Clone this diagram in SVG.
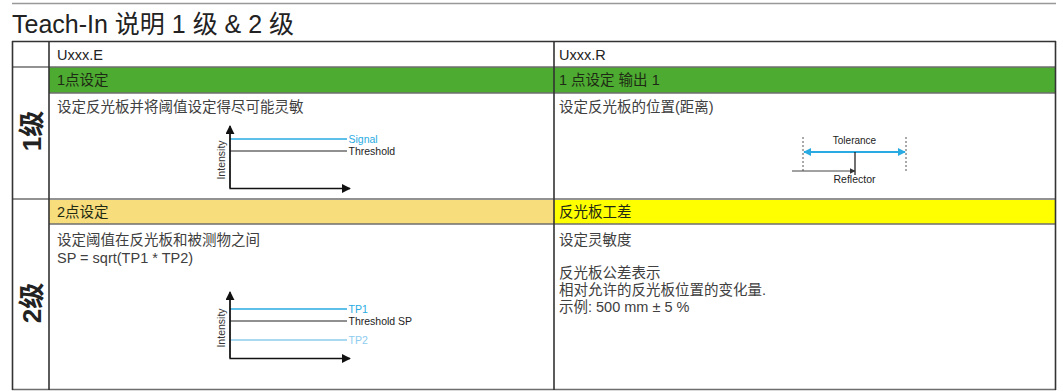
<svg xmlns="http://www.w3.org/2000/svg" width="1063" height="391" viewBox="0 0 1063 391">
<defs>
<style>
.t{font-family:"Liberation Sans","Noto Sans CJK SC",Arial,sans-serif;}
.body{font-size:14.5px;fill:#404040;}
.bar{font-size:14.5px;fill:#1e2a14;}
.hd{font-size:14.5px;fill:#222;}
.lbl{font-size:10.5px;}
.grid{stroke:#333;stroke-width:1.6;fill:none;}
.hl{stroke:#6e6e6e;stroke-width:1.6;}
.ax{stroke:#111;stroke-width:1.3;fill:none;}
</style>
<marker id="ah" viewBox="0 0 10 10" refX="9" refY="5" markerWidth="9" markerHeight="9" markerUnits="userSpaceOnUse" orient="auto"><path d="M0,0L10,5L0,10z" fill="#111"/></marker>
<marker id="bh" viewBox="0 0 10 10" refX="9" refY="5" markerWidth="8" markerHeight="8" markerUnits="userSpaceOnUse" orient="auto-start-reverse"><path d="M0,0L10,5L0,10z" fill="#29abe2"/></marker>
<marker id="sh" viewBox="0 0 10 10" refX="9" refY="5" markerWidth="6" markerHeight="6" markerUnits="userSpaceOnUse" orient="auto"><path d="M0,0L10,5L0,10z" fill="#333"/></marker>
</defs>
<rect width="1063" height="391" fill="#fff"/>
<line x1="12" y1="3.5" x2="1056" y2="3.5" stroke="#999" stroke-width="1.6"/>
<text id="title" class="t" x="12" y="33" font-size="25" fill="#222">Teach-In 说明 1 级 &amp; 2 级</text>

<g id="bars">
<rect x="49" y="67" width="505" height="26" fill="#4dab31"/>
<rect x="554" y="67" width="502" height="26" fill="#4dab31"/>
<rect x="49" y="200" width="505" height="24" fill="#f7dd7c"/>
<rect x="554" y="200" width="502" height="24" fill="#ffff00"/>
</g>

<g id="grid">
<line class="hl" x1="12" y1="67" x2="1056" y2="67"/>
<line class="hl" x1="49" y1="93" x2="1056" y2="93"/>
<line class="hl" x1="12" y1="199" x2="1056" y2="199"/>
<line class="hl" x1="49" y1="224" x2="1056" y2="224"/>
<line class="hl" x1="12" y1="389.5" x2="1056" y2="389.5"/>
<line class="grid" x1="12" y1="41.5" x2="1056" y2="41.5"/>
<line class="grid" x1="12.5" y1="41" x2="12.5" y2="390"/>
<line class="grid" x1="49" y1="41" x2="49" y2="390"/>
<line class="grid" x1="554" y1="41" x2="554" y2="390"/>
<line class="grid" x1="1055.5" y1="41" x2="1055.5" y2="390"/>
</g>

<g id="header">
<text class="t hd" x="57" y="60">Uxxx.E</text>
<text class="t hd" x="559" y="60">Uxxx.R</text>
</g>

<g id="row1-label"><text class="t" transform="translate(41,131) rotate(-90)" text-anchor="middle" font-size="26" font-weight="bold" fill="#222">1级</text></g>
<g id="row2-label"><text class="t" transform="translate(41,303) rotate(-90)" text-anchor="middle" font-size="26" font-weight="bold" fill="#222">2级</text></g>

<g id="cell-1E">
<text class="t bar" x="57" y="85">1点设定</text>
<text class="t body" x="57" y="112">设定反光板并将阈值设定得尽可能灵敏</text>
<line x1="230" y1="139" x2="347" y2="139" stroke="#29abe2" stroke-width="1.3"/>
<line x1="230" y1="151" x2="347" y2="151" stroke="#222" stroke-width="1.1"/>
<text class="t lbl" x="348.5" y="143" fill="#29abe2">Signal</text>
<text class="t lbl" x="348.5" y="155" fill="#222">Threshold</text>
<text class="t" transform="translate(225,160) rotate(-90)" text-anchor="middle" font-size="10.5" fill="#333">Intensity</text>
</g>

<g id="cell-1R">
<text class="t bar" x="559" y="85">1 点设定 输出 1</text>
<text class="t body" x="559" y="112">设定反光板的位置(距离)</text>
<line x1="803" y1="137" x2="803" y2="172" stroke="#555" stroke-width="1" stroke-dasharray="2,2"/>
<line x1="906" y1="137" x2="906" y2="172" stroke="#555" stroke-width="1" stroke-dasharray="2,2"/>
<text class="t" x="854.5" y="143.5" text-anchor="middle" font-size="10" fill="#222">Tolerance</text>
<text class="t" x="854.5" y="182.5" text-anchor="middle" font-size="10.5" fill="#222">Reflector</text>
</g>

<g id="cell-2E">
<text class="t bar" x="57" y="217">2点设定</text>
<text class="t body" x="57" y="245">设定阈值在反光板和被测物之间</text>
<text class="t body" x="57" y="263" fill="#222">SP = sqrt(TP1 * TP2)</text>
<line x1="230" y1="309" x2="347" y2="309" stroke="#29abe2" stroke-width="1.3"/>
<line x1="230" y1="321" x2="347" y2="321" stroke="#222" stroke-width="1.1"/>
<line x1="230" y1="340" x2="347" y2="340" stroke="#8dcbef" stroke-width="1.3"/>
<text class="t lbl" x="348.5" y="313" fill="#29abe2">TP1</text>
<text class="t lbl" x="348.5" y="325" fill="#222">Threshold SP</text>
<text class="t lbl" x="348.5" y="344" fill="#8dcbef">TP2</text>
<text class="t" transform="translate(225,328) rotate(-90)" text-anchor="middle" font-size="10.5" fill="#333">Intensity</text>
</g>

<g id="cell-2R">
<text class="t bar" x="559" y="217">反光板工差</text>
<text class="t body" x="559" y="245">设定灵敏度</text>
<text class="t body" x="559" y="278">反光板公差表示</text>
<text class="t body" x="559" y="295">相对允许的反光板位置的变化量.</text>
<text class="t body" x="559" y="312" fill="#222">示例: 500 mm ± 5 %</text>
</g>

<g id="connectors">
<polyline class="ax" points="230,128 230,188.5 350,188.5" marker-end="url(#ah)"/>
<line class="ax" x1="230" y1="188" x2="230" y2="126" marker-end="url(#ah)"/>
<polyline class="ax" points="230,295 230,358.5 350,358.5" marker-end="url(#ah)"/>
<line class="ax" x1="230" y1="358" x2="230" y2="292" marker-end="url(#ah)"/>
<line x1="804" y1="152" x2="905" y2="152" stroke="#29abe2" stroke-width="2" marker-start="url(#bh)" marker-end="url(#bh)"/>
<line x1="855" y1="152" x2="855" y2="175" stroke="#111" stroke-width="1.2"/>
<line x1="792" y1="171" x2="855" y2="171" stroke="#444" stroke-width="1" marker-end="url(#sh)"/>
</g>
</svg>
